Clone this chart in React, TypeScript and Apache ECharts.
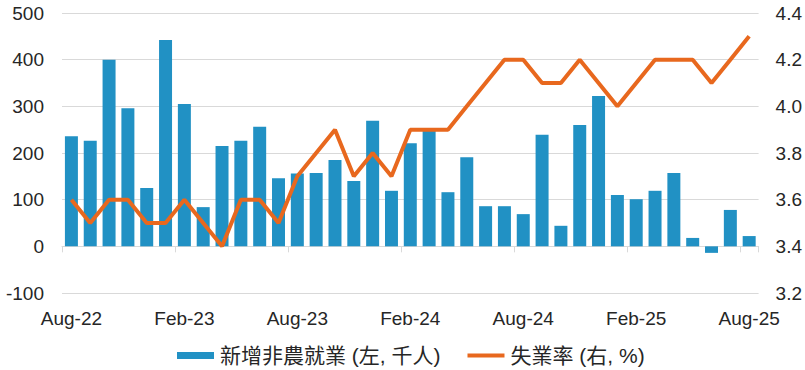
import React, { useEffect, useRef } from "react";
import * as echarts from "echarts";

const categories = [
  "Aug-22", "Sep-22", "Oct-22", "Nov-22", "Dec-22", "Jan-23", "Feb-23", "Mar-23", "Apr-23", "May-23",
  "Jun-23", "Jul-23", "Aug-23", "Sep-23", "Oct-23", "Nov-23", "Dec-23", "Jan-24", "Feb-24", "Mar-24",
  "Apr-24", "May-24", "Jun-24", "Jul-24", "Aug-24", "Sep-24", "Oct-24", "Nov-24", "Dec-24", "Jan-25",
  "Feb-25", "Mar-25", "Apr-25", "May-25", "Jun-25", "Jul-25", "Aug-25",
];

const payrolls = [
  236, 226, 400, 296, 125, 442, 305, 84, 215, 226,
  256, 146, 156, 157, 185, 140, 269, 119, 221, 247,
  116, 191, 86, 86, 69, 239, 44, 260, 322, 110,
  101, 119, 157, 18, -14, 78, 22,
];

const unemployment = [
  3.6, 3.5, 3.6, 3.6, 3.5, 3.5, 3.6, 3.5, 3.4, 3.6,
  3.6, 3.5, 3.7, 3.8, 3.9, 3.7, 3.8, 3.7, 3.9, 3.9,
  3.9, 4.0, 4.1, 4.2, 4.2, 4.1, 4.1, 4.2, 4.1, 4.0,
  4.1, 4.2, 4.2, 4.2, 4.1, 4.2, 4.3,
];

const barName = "新增非農就業 (左, 千人)";
const lineName = "失業率 (右, %)";

const FONT = "'Liberation Sans', Arial, 'Noto Sans CJK TC', sans-serif";

export default function App() {
  const ref = useRef<HTMLDivElement>(null);
  useEffect(() => {
    if (!ref.current) return;
    document.body.style.margin = "0";
    const chart = echarts.init(ref.current, null, { renderer: "svg" });
    chart.setOption({
      animation: false,
      textStyle: { fontFamily: FONT },
      grid: { left: 62, right: 46, top: 13, bottom: 77, containLabel: false },
      legend: {
        left: 177,
        top: 345,
        padding: 0,
        itemWidth: 37,
        itemHeight: 7,
        itemGap: 27,
        textStyle: { fontSize: 21, color: "#262626", fontFamily: FONT, padding: [0, 0, 0, 1] },
        data: [
          { name: barName, icon: "rect" },
          { name: lineName, icon: "path://M0,0H37V4H0Z" },
        ],
      },
      xAxis: {
        type: "category",
        data: categories,
        boundaryGap: true,
        axisLine: { onZero: true, lineStyle: { color: "#d9d9d9", width: 1 } },
        axisTick: { show: true, interval: 5, length: 6, lineStyle: { color: "#d9d9d9" } },
        axisLabel: { interval: 5, margin: 16, fontSize: 19, color: "#262626", fontFamily: FONT },
      },
      yAxis: [
        {
          type: "value",
          min: -100,
          max: 500,
          interval: 100,
          axisLine: { show: false },
          axisTick: { show: false },
          axisLabel: { fontSize: 19, color: "#262626", margin: 18, fontFamily: FONT },
          splitLine: { lineStyle: { color: "#d9d9d9", width: 1 } },
        },
        {
          type: "value",
          min: 3.2,
          max: 4.4,
          interval: 0.2,
          position: "right",
          axisLine: { show: false },
          axisTick: { show: false },
          axisLabel: {
            fontSize: 19,
            color: "#262626",
            margin: 17,
            fontFamily: FONT,
            formatter: (v: number) => v.toFixed(1),
          },
          splitLine: { show: false },
        },
      ],
      series: [
        {
          name: barName,
          type: "bar",
          data: payrolls,
          yAxisIndex: 0,
          barCategoryGap: "31%",
          itemStyle: { color: "#2191C4" },
        },
        {
          name: lineName,
          type: "line",
          data: unemployment,
          yAxisIndex: 1,
          symbol: "none",
          showSymbol: false,
          lineStyle: { color: "#E8681E", width: 4 },
          itemStyle: { color: "#E8681E" },
          z: 3,
        },
      ],
    });
    return () => chart.dispose();
  }, []);
  return <div ref={ref} style={{ width: 805, height: 370, position: "absolute", left: 0, top: 0 }} />;
}
